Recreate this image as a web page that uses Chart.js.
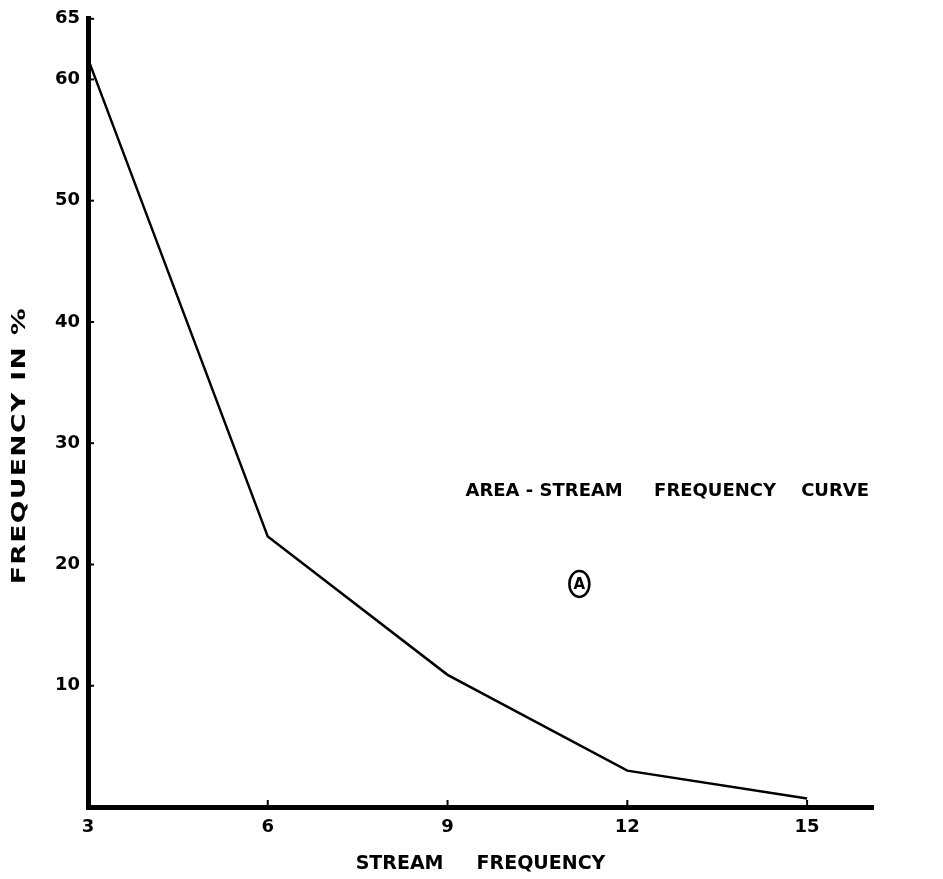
<!DOCTYPE html>
<html>
<head>
<meta charset="utf-8">
<script src="https://cdn.jsdelivr.net/npm/chart.js@4/dist/chart.umd.min.js"></script>
<style>
  html, body { margin: 0; padding: 0; background: #fff; }
  #wrap { width: 943px; height: 879px; }
</style>
</head>
<body>
<div id="wrap"><canvas id="c"></canvas></div>
<script>
// 자료: 하천 빈도별 면적 비율
const streamFreq = [3, 6, 9, 12, 15];
const freqPercent = [61.7, 22.3, 10.9, 3.0, 0.7];
const xTicks = [3, 6, 9, 12, 15];
const yTicks = [10, 20, 30, 40, 50, 60, 65];

Chart.defaults.font.family = "'DejaVu Sans', sans-serif";
Chart.defaults.font.weight = 'bold';
Chart.defaults.color = '#000';

// 축 안쪽 눈금 + y축 제목 + 주석 글자
const extras = {
  id: 'extras',
  afterDraw(chart) {
    const c = chart.ctx, x = chart.scales.x, y = chart.scales.y;
    c.save();
    c.strokeStyle = '#000';
    c.lineWidth = 2;
    xTicks.slice(1).forEach(v => {
      const px = x.getPixelForValue(v);
      c.beginPath(); c.moveTo(px, y.bottom); c.lineTo(px, y.bottom - 7); c.stroke();
    });
    yTicks.forEach(v => {
      const py = y.getPixelForValue(v);
      c.beginPath(); c.moveTo(x.left, py); c.lineTo(x.left + 6, py); c.stroke();
    });
    c.fillStyle = '#000';

    // y축 제목 (글자 폭을 넓게 늘림)
    c.save();
    c.translate(20, y.getPixelForValue(29.8));
    c.rotate(-Math.PI / 2);
    c.scale(1.4, 1);
    c.font = "bold 19px 'DejaVu Sans'";
    c.letterSpacing = '1px';
    c.textAlign = 'center';
    c.textBaseline = 'middle';
    c.fillText('FREQUENCY IN %', 0, 0);
    c.restore();

    c.font = "bold 18px 'DejaVu Sans'";
    c.textBaseline = 'middle';
    c.fillText('AREA - STREAM     FREQUENCY    CURVE', x.getPixelForValue(9.3), y.getPixelForValue(26));
    const ax = x.getPixelForValue(11.2), ay = y.getPixelForValue(18.4);
    c.lineWidth = 2.5;
    c.beginPath(); c.ellipse(ax, ay, 10, 13, 0, 0, Math.PI * 2); c.stroke();
    c.font = "bold 15px 'DejaVu Sans'";
    c.textAlign = 'center';
    c.fillText('A', ax, ay + 1);
    c.restore();
  }
};

new Chart(document.getElementById('c'), {
  type: 'line',
  data: {
    datasets: [{
      data: streamFreq.map((v, i) => ({ x: v, y: freqPercent[i] })),
      borderColor: '#000',
      borderWidth: 2.5,
      pointRadius: 0,
      tension: 0,
      fill: false
    }]
  },
  options: {
    responsive: true,
    maintainAspectRatio: false,
    animation: false,
    layout: { padding: { top: 12, right: 70, left: 0, bottom: 0 } },
    plugins: { legend: { display: false }, tooltip: { enabled: false } },
    scales: {
      x: {
        type: 'linear',
        min: 3,
        max: 16.1,
        afterBuildTicks: s => { s.ticks = xTicks.map(v => ({ value: v })); },
        afterFit: s => { s.height = 72; },
        grid: { display: false, drawTicks: false },
        border: { color: '#000', width: 5 },
        ticks: { font: { size: 18, weight: 'bold' }, padding: 10, maxRotation: 0 },
        title: {
          display: true,
          text: 'STREAM     FREQUENCY',
          font: { size: 19, weight: 'bold' },
          padding: { top: 0 }
        }
      },
      y: {
        min: 0,
        max: 65,
        afterBuildTicks: s => { s.ticks = yTicks.map(v => ({ value: v })); },
        afterFit: s => { s.width = 88; },
        grid: { display: false, drawTicks: false },
        border: { color: '#000', width: 5 },
        ticks: { font: { size: 18, weight: 'bold' }, padding: 8 },
        title: { display: false }
      }
    }
  },
  plugins: [extras]
});
</script>
</body>
</html>
